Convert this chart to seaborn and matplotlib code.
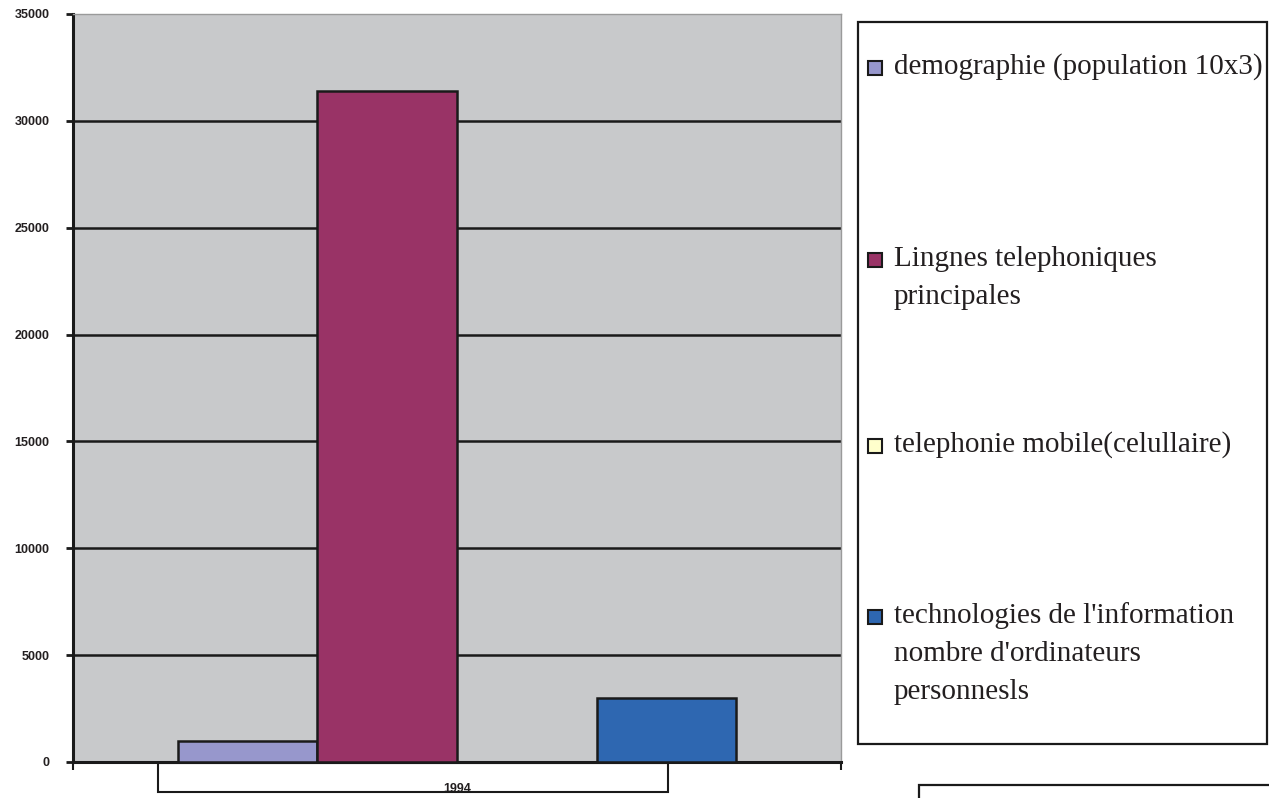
import pandas as pd
import matplotlib
matplotlib.use('Agg')
import matplotlib.pyplot as plt
import seaborn as sns
from matplotlib.patches import Rectangle

# Data
years = ['1994']
series = ['demographie (population 10x3)',
          'Lingnes telephoniques\nprincipales',
          'telephonie mobile(celullaire)',
          "technologies de l'information\nnombre d'ordinateurs\npersonnesls"]
values = [1000, 31400, 0, 3000]
colors = ['#9797cc', '#993366', '#ffffcc', '#2e67b1']
yticks = [0, 5000, 10000, 15000, 20000, 25000, 30000, 35000]

df = pd.DataFrame({'year': years * len(series), 'serie': series, 'value': values})

sns.set_style('white')
plt.rcParams['font.family'] = ['Liberation Sans', 'DejaVu Sans']

W, H = 1269, 798
fig = plt.figure(figsize=(W / 100, H / 100), dpi=100)
ax = fig.add_axes([73 / W, 1 - 762 / H, (841 - 73) / W, (762 - 14) / H])
ax.set_facecolor('#c8c9cb')

sns.barplot(data=df, x='year', y='value', hue='serie', palette=colors,
            width=0.727, edgecolor='#1a1a1a', linewidth=1.8, saturation=1,
            legend=False, ax=ax, zorder=3)

ax.set_xlim(-0.5, 0.5)
ax.set_ylim(0, 35000)
ax.set_yticks(yticks)
ax.set_yticklabels([str(t) for t in yticks], fontsize=9, fontweight='bold', color='#231f20')
for t in yticks[1:-1]:
    ax.axhline(t, color='#1a1a1a', lw=1.8, zorder=1)
ax.set_xlabel('')
ax.set_ylabel('')
ax.tick_params(axis='y', length=5, width=2, pad=12, color='#1a1a1a', left=True)
ax.tick_params(axis='x', which='major', length=0, pad=15, labelsize=9, labelcolor='#231f20')
for lab in ax.get_xticklabels():
    lab.set_fontweight('bold')
ax.set_xticks([-0.5, 0.5], minor=True)
ax.tick_params(axis='x', which='minor', length=6, width=1.5, color='#1a1a1a', bottom=True)

for s in ['left', 'bottom']:
    ax.spines[s].set_color('#1a1a1a')
    ax.spines[s].set_linewidth(2.2)
for s in ['top', 'right']:
    ax.spines[s].set_color('#9a9a9a')
    ax.spines[s].set_linewidth(1)

# category label box
fig.patches.append(Rectangle((158 / W, 1 - 792 / H), (668 - 158) / W, (792 - 763) / H,
                             transform=fig.transFigure, fill=False, ec='#1a1a1a', lw=1.5))

# legend frame
fig.patches.append(Rectangle((858 / W, 1 - 744 / H), (1267 - 858) / W, (744 - 22) / H,
                             transform=fig.transFigure, fill=False, ec='#1a1a1a', lw=1.6))
# extra frame at bottom right
fig.patches.append(Rectangle((919 / W, 1 - 810 / H), (1280 - 919) / W, (810 - 785) / H,
                             transform=fig.transFigure, fill=False, ec='#1a1a1a', lw=1.6))

# legend entries (one text per line)
first_baseline = [74, 266, 452, 623]
pitch = 38
for lab, col, yb in zip(series, colors, first_baseline):
    fig.patches.append(Rectangle((868 / W, 1 - (yb + 1) / H), 14 / W, 14 / H,
                                 transform=fig.transFigure, fc=col, ec='#1a1a1a', lw=1.5))
    for i, line in enumerate(lab.split('\n')):
        fig.text(894 / W, 1 - (yb + i * pitch) / H, line, fontsize=21,
                 family=['Liberation Serif'], va='baseline', ha='left',
                 color='#231f20', transform=fig.transFigure)

fig.savefig('out.png', dpi=100)
